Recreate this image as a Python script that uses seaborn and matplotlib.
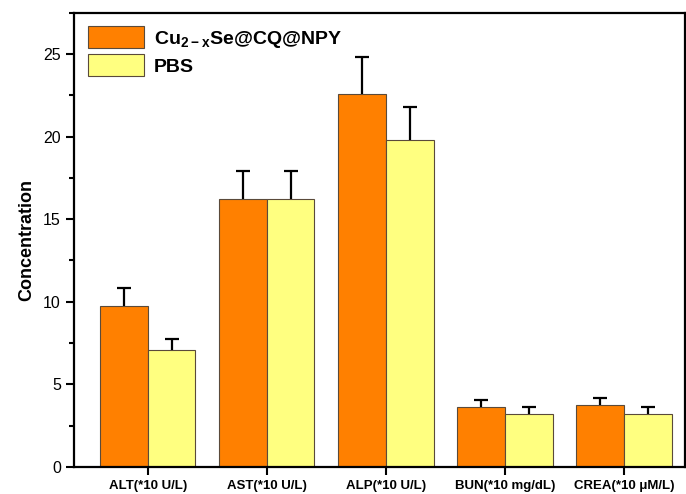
import numpy as np
import pandas as pd
import matplotlib
matplotlib.use('Agg')
import matplotlib.pyplot as plt
import seaborn as sns
from matplotlib.ticker import MultipleLocator

# Dados
categorias = ['ALT(*10 U/L)', 'AST(*10 U/L)', 'ALP(*10 U/L)', 'BUN(*10 mg/dL)', 'CREA(*10 \u03bcM/L)']
grupos = ['Cu$_{\\mathregular{2-x}}$Se@CQ@NPY', 'PBS']
valores_np = [9.75, 16.25, 22.6, 3.65, 3.77]
valores_pbs = [7.05, 16.25, 19.8, 3.22, 3.22]
erro_np = [1.1, 1.65, 2.25, 0.4, 0.42]
erro_pbs = [0.72, 1.65, 2.0, 0.4, 0.38]
cores = ['#FF8000', '#FFFF80']

df = pd.DataFrame({
    'categoria': categorias * 2,
    'grupo': [grupos[0]] * 5 + [grupos[1]] * 5,
    'valor': valores_np + valores_pbs,
})

sns.set_style('ticks')
plt.rcParams['font.family'] = ['Liberation Sans', 'DejaVu Sans']
plt.rcParams['mathtext.fontset'] = 'custom'
plt.rcParams['mathtext.rm'] = 'Liberation Sans'
plt.rcParams['mathtext.bf'] = 'Liberation Sans:bold'
plt.rcParams['axes.edgecolor'] = 'black'
plt.rcParams['xtick.color'] = 'black'
plt.rcParams['ytick.color'] = 'black'
plt.rcParams['text.color'] = 'black'
plt.rcParams['axes.labelcolor'] = 'black'

fig = plt.figure(figsize=(6.86, 4.94), dpi=100)
ax = fig.add_axes([0.108, 0.055, 0.89, 0.919])

sns.barplot(data=df, x='categoria', y='valor', hue='grupo', palette=cores,
            saturation=1, width=0.8, edgecolor='#5a4a3a', linewidth=0.8,
            ax=ax, errorbar=None)

# Barras de erro (só para cima)
erros = erro_np + erro_pbs
for patch, e in zip(ax.patches[:10], erros):
    xc = patch.get_x() + patch.get_width() / 2
    h = patch.get_height()
    _, caps, _ = ax.errorbar(xc, h, yerr=[[0], [e]], fmt='none', ecolor='black',
                             elinewidth=1.6, capsize=5, capthick=1.6)
    caps[0].set_visible(False)  # esconder o cap de baixo

ax.set_xlim(-0.62, 4.51)
ax.set_ylim(0, 27.5)
ax.yaxis.set_major_locator(MultipleLocator(5))
ax.yaxis.set_minor_locator(MultipleLocator(2.5))
ax.tick_params(axis='y', which='major', length=6, width=1.5, labelsize=11.5)
ax.tick_params(axis='y', which='minor', length=3.5, width=1.5)
ax.tick_params(axis='x', length=6, width=1.5, labelsize=9.5)
for lbl in ax.get_xticklabels():
    lbl.set_fontweight('bold')
for s in ax.spines.values():
    s.set_linewidth(1.6)
    s.set_visible(True)

ax.set_xlabel('')
ax.set_ylabel('Concentration', fontsize=13, fontweight='bold', labelpad=6)

leg = ax.legend(loc='upper left', frameon=False, prop={'weight': 'bold', 'size': 14},
                handlelength=2.9, handleheight=1.3, borderaxespad=0.3,
                labelspacing=0.25, handletextpad=0.5)
for h in leg.legend_handles:
    h.set_edgecolor('#5a4a3a')

plt.savefig('out.png', dpi=100)
